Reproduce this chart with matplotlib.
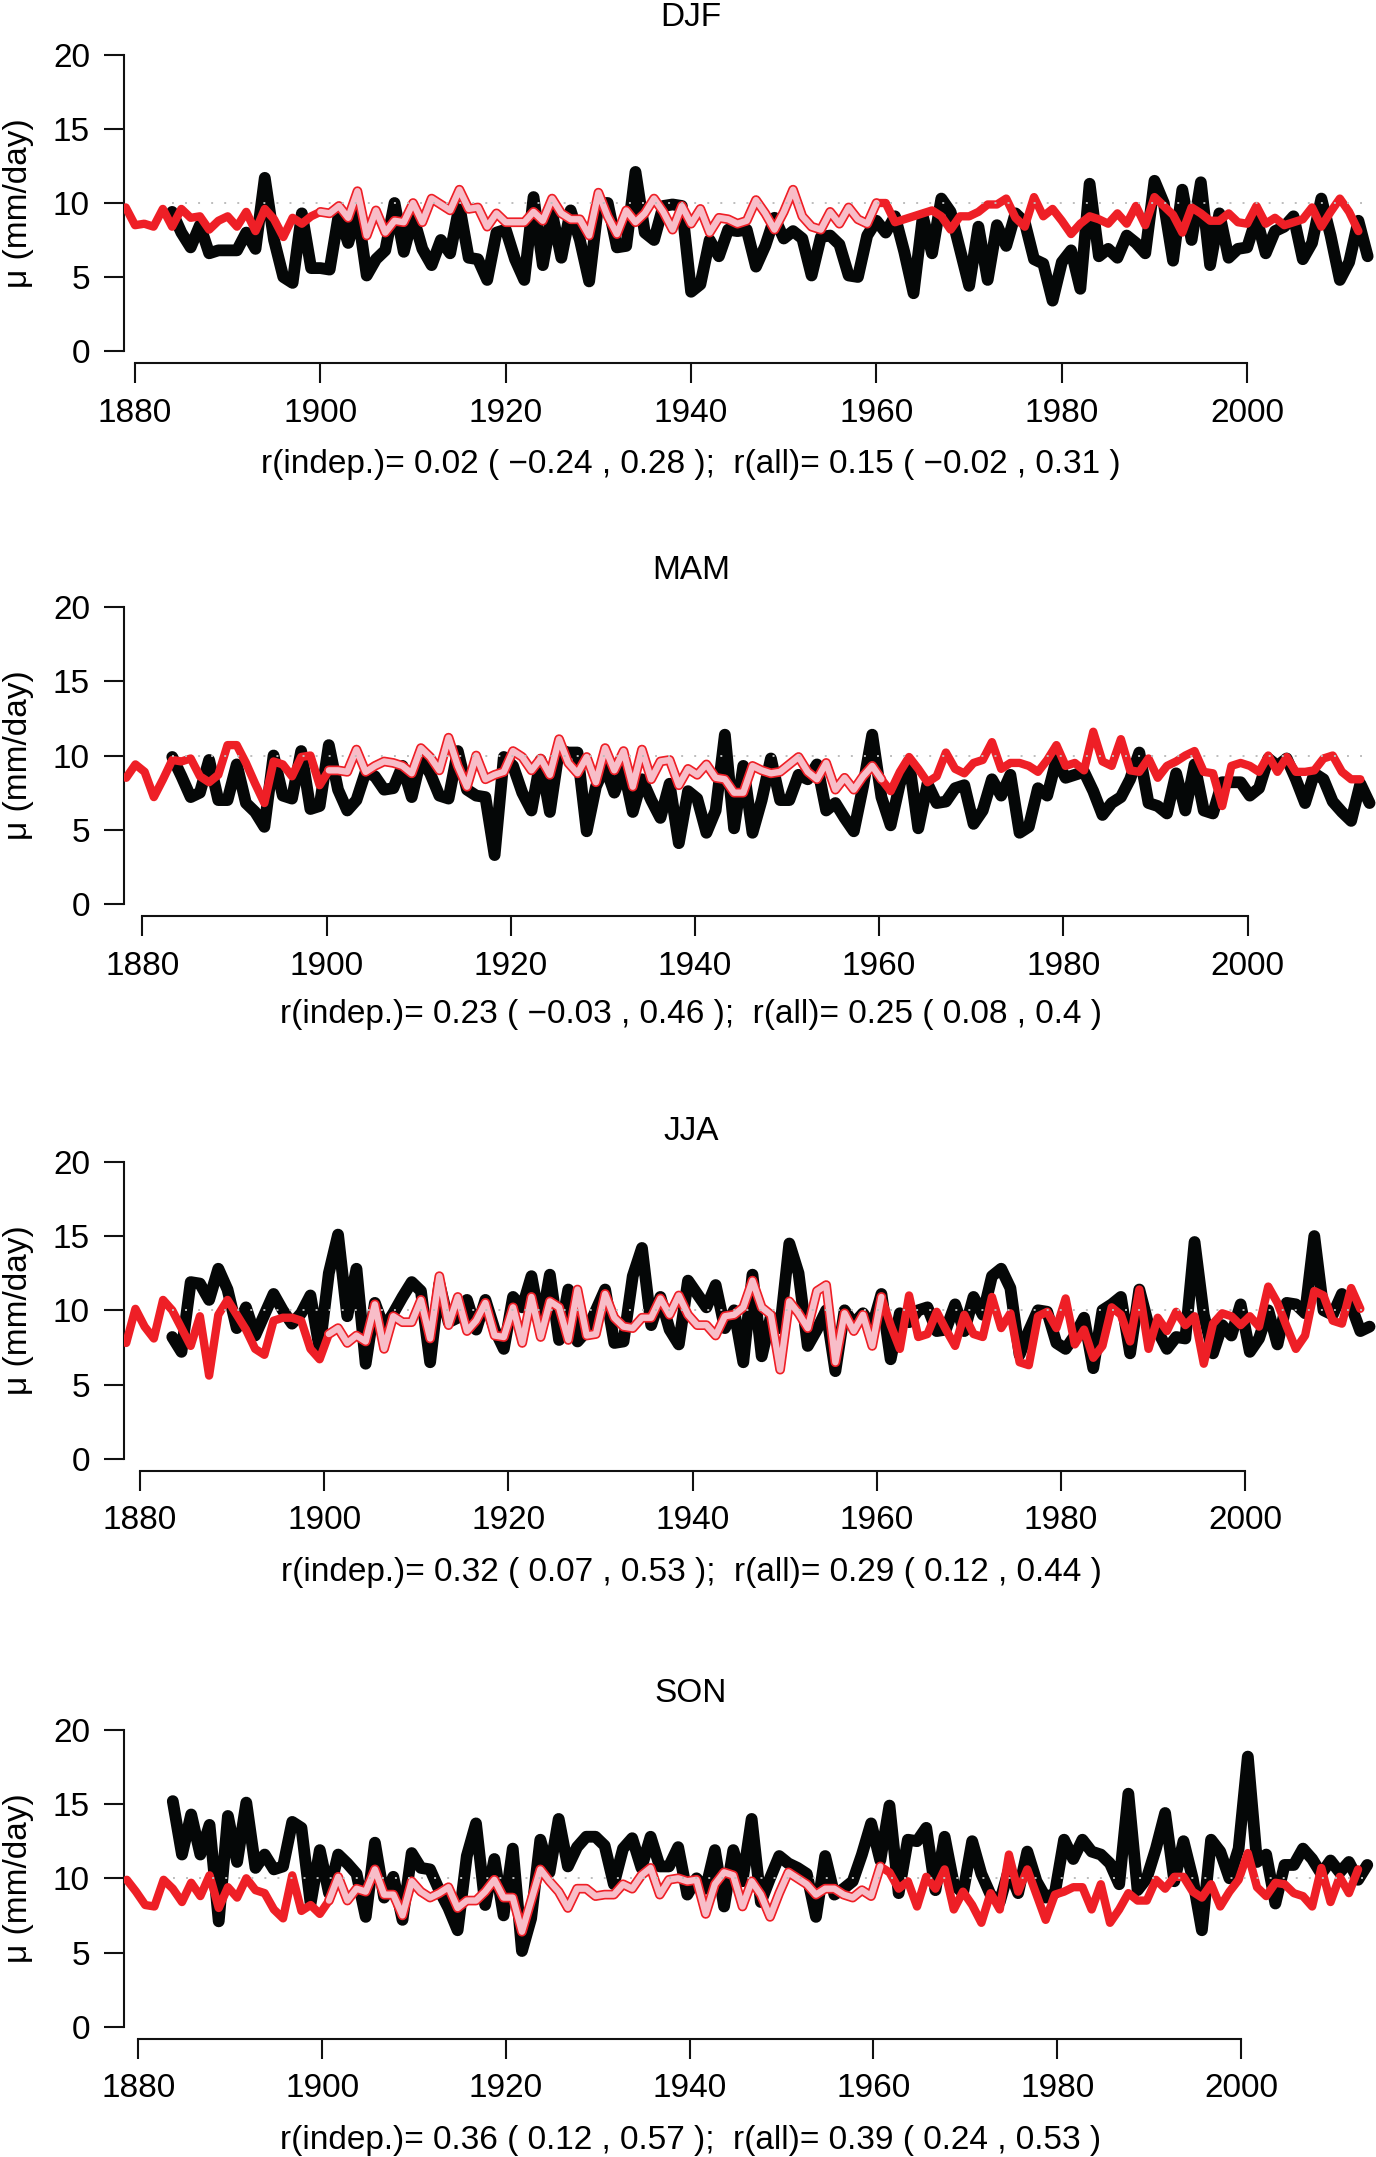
import numpy as np
import matplotlib
matplotlib.use("Agg")
import matplotlib.pyplot as plt

plt.rcParams['font.family'] = ['Liberation Sans', 'DejaVu Sans']
plt.rcParams['lines.scale_dashes'] = False

# ---------------- data ----------------
seasons = ["DJF", "MAM", "JJA", "SON"]
r_texts = [
    "r(indep.)= 0.02 ( \u22120.24 , 0.28 );  r(all)= 0.15 ( \u22120.02 , 0.31 )",
    "r(indep.)= 0.23 ( \u22120.03 , 0.46 );  r(all)= 0.25 ( 0.08 , 0.4 )",
    "r(indep.)= 0.32 ( 0.07 , 0.53 );  r(all)= 0.29 ( 0.12 , 0.44 )",
    "r(indep.)= 0.36 ( 0.12 , 0.57 );  r(all)= 0.39 ( 0.24 , 0.53 )",
]
indep_period = (1900, 1960)
x_ticks = [1880, 1900, 1920, 1940, 1960, 1980, 2000]
y_ticks = [0, 5, 10, 15, 20]
ref_level = 10

djf_obs_start = 1884
djf_obs = [9.4, 8.0, 7.0, 8.5, 6.6, 6.8, 6.8, 6.8, 8.0, 6.9,
           11.7, 7.5, 5.0, 4.6, 9.3, 5.6, 5.6, 5.5, 9.3, 7.3,
           9.5, 5.1, 6.2, 6.8, 10.0, 6.7, 9.1, 6.9, 5.8, 7.5,
           6.6, 9.8, 6.3, 6.2, 4.8, 8.0, 8.2, 6.2, 4.8, 10.4,
           5.8, 9.3, 6.3, 9.5, 7.5, 4.7, 10.0, 10.0, 7.0, 7.1,
           12.1, 8.0, 7.5, 9.8, 9.9, 9.8, 4.0, 4.5, 7.5, 6.4,
           8.2, 8.1, 8.2, 5.7, 7.1, 9.0, 7.6, 8.1, 7.6, 5.1,
           7.7, 7.8, 7.2, 5.1, 5.0, 7.8, 8.8, 8.0, 9.1, 6.7,
           3.9, 9.1, 6.6, 10.3, 9.4, 6.9, 4.4, 8.4, 4.8, 8.5,
           7.1, 9.3, 8.7, 6.2, 5.9, 3.4, 6.0, 6.8, 4.2, 11.3,
           6.4, 6.9, 6.3, 7.8, 7.3, 6.6, 11.5, 10.0, 6.1, 10.9,
           7.5, 11.4, 5.8, 9.3, 6.3, 6.9, 7.0, 9.0, 6.6, 8.1,
           8.4, 9.1, 6.2, 7.3, 10.3, 7.8, 4.8, 6.0, 8.8, 6.4]
djf_mod_start = 1879
djf_mod = [9.7, 8.5, 8.6, 8.4, 9.6, 8.4, 9.6, 9.0, 9.1, 8.2,
           8.8, 9.1, 8.4, 9.4, 8.1, 9.6, 8.9, 7.7, 9.0, 8.6,
           9.1, 9.4, 9.3, 9.8, 9.0, 10.8, 7.8, 9.5, 8.0, 8.8,
           8.7, 10.0, 8.7, 10.3, 9.9, 9.5, 10.9, 9.6, 9.7, 8.4,
           9.3, 8.7, 8.7, 8.7, 9.4, 8.8, 10.3, 9.3, 8.9, 8.9,
           7.8, 10.7, 9.1, 7.9, 9.5, 8.7, 9.3, 10.3, 9.4, 8.2,
           9.8, 8.6, 9.6, 8.0, 9.0, 8.9, 8.6, 8.8, 10.2, 9.3,
           8.2, 9.4, 10.9, 9.1, 8.4, 8.2, 9.4, 8.6, 9.7, 8.9,
           8.6, 10.0, 10.0, 8.7, 8.9, 9.1, 9.3, 9.5, 9.1, 8.2,
           9.1, 9.1, 9.4, 9.9, 9.9, 10.3, 9.0, 8.4, 10.4, 9.1,
           9.6, 8.8, 7.9, 8.6, 9.1, 8.9, 8.6, 9.3, 8.6, 9.8,
           8.5, 10.4, 9.8, 9.2, 8.0, 9.7, 9.3, 8.8, 8.8, 9.3,
           8.7, 8.6, 9.8, 8.6, 9.0, 8.5, 8.7, 8.9, 9.7, 8.4,
           9.4, 10.3, 9.4, 8.1]

mam_obs_start = 1883
mam_obs = [9.9, 8.6, 7.2, 7.5, 9.7, 7.0, 7.0, 9.4, 6.8, 6.2,
           5.2, 10.0, 7.3, 7.1, 10.3, 6.4, 6.6, 10.7, 7.7, 6.3,
           7.0, 8.9, 8.6, 7.7, 7.8, 9.3, 7.2, 9.8, 8.8, 7.3,
           7.1, 10.3, 7.7, 7.3, 7.2, 3.3, 9.9, 9.3, 7.5, 6.3,
           9.7, 6.2, 10.4, 10.2, 10.2, 4.9, 7.9, 9.3, 7.5, 9.1,
           6.2, 8.4, 7.0, 5.8, 8.1, 4.1, 7.6, 7.1, 4.8, 6.3,
           11.4, 5.1, 9.3, 4.8, 7.0, 9.8, 7.0, 7.0, 8.7, 8.4,
           9.4, 6.3, 6.8, 5.8, 4.9, 7.9, 11.4, 7.2, 5.3, 8.1,
           9.6, 5.1, 8.1, 6.8, 6.9, 7.8, 8.0, 5.4, 6.3, 8.4,
           7.3, 8.7, 4.8, 5.2, 7.8, 7.3, 9.7, 8.5, 8.7, 8.9,
           7.6, 6.0, 6.8, 7.2, 8.4, 10.2, 6.8, 6.6, 6.1, 8.8,
           6.3, 9.4, 6.3, 6.1, 8.2, 8.2, 8.2, 7.3, 7.8, 9.8,
           9.3, 9.8, 8.4, 6.8, 8.8, 8.4, 6.9, 6.2, 5.6, 8.1, 6.8]
mam_mod_start = 1878
mam_mod = [8.5, 9.4, 8.9, 7.2, 8.4, 9.7, 9.6, 9.8, 8.6, 8.2,
           8.7, 10.7, 10.7, 9.5, 8.1, 6.8, 9.6, 9.4, 8.6, 9.9,
           10.0, 8.0, 9.0, 9.0, 8.9, 10.4, 8.9, 9.3, 9.6, 9.5,
           9.3, 8.8, 10.5, 9.9, 9.0, 11.2, 9.3, 7.9, 10.0, 8.4,
           8.7, 8.9, 10.3, 9.9, 9.0, 9.8, 8.7, 11.1, 9.5, 8.8,
           9.9, 8.2, 10.5, 9.0, 10.3, 7.9, 10.4, 8.4, 9.6, 9.7,
           8.0, 9.1, 8.7, 9.4, 8.5, 8.4, 7.5, 7.5, 9.3, 9.0,
           8.8, 8.9, 9.4, 9.9, 8.9, 8.4, 9.5, 7.7, 8.5, 7.7,
           8.6, 9.3, 8.4, 7.6, 8.9, 9.9, 9.1, 8.2, 8.6, 10.2,
           9.1, 8.8, 9.5, 9.7, 10.9, 9.1, 9.5, 9.5, 9.3, 8.9,
           9.7, 10.7, 9.3, 9.5, 9.0, 11.6, 9.6, 9.3, 11.1, 9.0,
           8.9, 9.8, 8.5, 9.3, 9.6, 10.0, 10.3, 8.9, 8.8, 6.6,
           9.3, 9.5, 9.3, 8.9, 10.0, 8.9, 9.9, 8.9, 8.9, 9.0,
           9.8, 10.0, 8.9, 8.4, 8.4]

jja_obs_start = 1883
jja_obs = [8.2, 7.2, 11.9, 11.8, 10.7, 12.8, 11.4, 8.8, 10.2, 8.3,
           9.7, 11.1, 10.0, 9.1, 9.8, 11.0, 7.4, 12.5, 15.1, 9.6,
           12.8, 6.4, 10.5, 8.8, 9.8, 10.9, 11.9, 11.3, 6.5, 11.8,
           9.2, 9.5, 10.7, 8.7, 10.7, 8.7, 7.4, 10.9, 10.2, 12.3,
           8.9, 12.4, 8.0, 11.4, 7.9, 8.6, 10.0, 11.4, 7.8, 7.9,
           12.3, 14.2, 9.0, 10.9, 8.7, 7.7, 12.0, 11.1, 10.2, 11.7,
           8.8, 10.0, 6.5, 12.4, 6.9, 9.6, 8.8, 14.5, 12.5, 7.6,
           8.7, 10.0, 5.9, 10.0, 9.1, 9.8, 8.9, 11.1, 6.7, 9.8,
           9.2, 10.0, 10.2, 8.6, 8.7, 10.4, 8.6, 10.9, 9.7, 12.3,
           12.8, 11.5, 7.0, 8.6, 10.0, 9.9, 7.8, 7.4, 8.3, 9.5,
           6.1, 10.0, 10.4, 10.9, 7.1, 11.4, 9.0, 8.6, 7.4, 8.2,
           8.1, 14.6, 9.7, 7.1, 9.0, 8.3, 10.4, 7.2, 8.1, 10.0,
           7.7, 10.5, 10.4, 9.8, 15.0, 10.0, 9.7, 11.1, 10.3, 8.6, 8.9]
jja_mod_start = 1878
jja_mod = [7.8, 10.1, 8.9, 8.1, 10.7, 10.0, 8.8, 7.6, 9.6, 5.6,
           9.7, 10.7, 9.7, 8.7, 7.4, 7.0, 9.3, 9.5, 9.5, 9.3,
           7.4, 6.7, 8.4, 8.8, 7.8, 8.3, 7.9, 10.4, 7.4, 9.6,
           9.2, 9.2, 10.7, 8.1, 12.3, 9.0, 10.9, 8.6, 9.3, 10.5,
           8.3, 8.2, 10.2, 7.8, 10.9, 8.2, 10.6, 10.2, 8.0, 11.4,
           8.3, 8.4, 11.1, 9.5, 8.9, 8.8, 9.5, 9.5, 10.8, 9.7,
           11.0, 9.7, 9.0, 9.0, 8.3, 9.6, 9.7, 10.2, 12.0, 10.2,
           9.7, 6.0, 10.6, 9.8, 8.8, 11.3, 11.7, 6.5, 9.8, 8.6,
           9.7, 7.6, 10.9, 9.0, 7.4, 11.0, 8.2, 8.4, 9.9, 8.7,
           7.6, 9.7, 8.4, 8.2, 10.9, 8.8, 9.8, 6.5, 6.3, 9.6,
           9.9, 8.8, 10.8, 7.7, 8.7, 6.8, 7.6, 10.2, 9.7, 7.9,
           11.4, 7.4, 9.5, 8.6, 9.9, 9.0, 9.6, 6.4, 9.1, 9.8,
           9.6, 9.0, 9.6, 8.9, 11.6, 10.5, 8.9, 7.4, 8.3, 11.3,
           11.0, 9.3, 9.1, 11.5, 10.1]

son_obs_start = 1883
son_obs = [15.2, 11.6, 14.3, 11.6, 13.6, 7.1, 14.2, 11.1, 15.1, 10.7,
           11.6, 10.6, 10.8, 13.8, 13.4, 8.3, 11.9, 9.0, 11.6, 11.0,
           10.3, 7.4, 12.4, 8.7, 10.1, 7.2, 11.7, 10.7, 10.6, 9.2,
           8.0, 6.5, 11.5, 13.7, 8.2, 11.3, 7.5, 12.0, 5.1, 7.3,
           12.6, 10.4, 14.0, 10.8, 12.1, 12.8, 12.8, 12.2, 9.6, 12.0,
           12.7, 10.7, 12.8, 10.8, 10.8, 12.1, 8.9, 10.0, 9.3, 11.9,
           8.1, 11.9, 9.8, 14.0, 8.4, 10.0, 11.5, 11.0, 10.7, 10.3,
           7.4, 11.5, 8.9, 9.3, 9.8, 11.6, 13.7, 11.2, 14.9, 9.0,
           12.6, 12.5, 13.4, 9.2, 12.8, 9.6, 9.0, 12.5, 10.3, 8.9,
           8.4, 10.6, 9.0, 11.8, 9.8, 8.7, 9.0, 12.6, 11.3, 12.6,
           11.8, 11.6, 11.0, 9.6, 15.7, 9.2, 10.0, 12.0, 14.4, 9.8,
           12.5, 10.0, 6.5, 12.6, 11.8, 10.0, 12.0, 18.2, 11.1, 11.6,
           8.3, 10.9, 10.9, 12.0, 11.3, 10.3, 11.2, 10.4, 11.1, 9.9, 10.9]
son_mod_start = 1878
son_mod = [9.9, 9.1, 8.2, 8.1, 9.9, 9.3, 8.4, 9.7, 8.8, 10.2,
           8.0, 9.4, 8.7, 10.0, 9.2, 9.0, 7.9, 7.3, 10.2, 7.8,
           8.2, 7.6, 8.5, 10.1, 8.5, 9.3, 9.1, 10.6, 8.9, 8.9,
           7.5, 9.8, 9.1, 8.7, 9.0, 9.4, 8.0, 8.5, 8.5, 9.1,
           9.9, 8.7, 8.7, 6.4, 8.5, 10.6, 9.8, 9.1, 8.0, 9.3,
           9.3, 8.8, 8.9, 8.9, 9.6, 9.3, 10.2, 10.7, 8.9, 9.9,
           10.0, 9.8, 9.9, 7.6, 9.6, 10.4, 10.2, 8.1, 9.8, 8.9,
           7.4, 9.0, 10.4, 10.0, 9.6, 8.9, 9.3, 9.3, 8.9, 8.7,
           9.2, 8.8, 10.8, 10.4, 9.3, 9.8, 8.1, 10.1, 9.3, 10.6,
           7.9, 9.1, 8.2, 7.0, 9.0, 7.9, 11.6, 9.1, 10.6, 8.9,
           7.2, 8.9, 9.1, 9.4, 9.4, 7.9, 9.6, 7.0, 7.9, 9.0,
           8.5, 8.5, 9.9, 9.3, 10.1, 10.1, 9.1, 8.7, 9.6, 8.1,
           9.1, 9.9, 11.7, 9.4, 8.8, 9.7, 9.6, 9.0, 8.8, 8.1,
           10.7, 8.4, 10.1, 9.0, 10.6]

panels_obs = [(djf_obs_start, djf_obs), (mam_obs_start, mam_obs),
              (jja_obs_start, jja_obs), (son_obs_start, son_obs)]
panels_mod = [(djf_mod_start, djf_mod), (mam_mod_start, mam_mod),
              (jja_mod_start, jja_mod), (son_mod_start, son_mod)]

# ---------------- layout (pixels of the 1376x2157 canvas) ----------------
W, H, DPI = 1376, 2157, 100
season_shift = [0.0, 0.25, 0.5, 0.75]          # seasonal position within year
region_tb = [(43.2, 362.8), (595.0, 916.0), (1150.0, 1470.6), (1718.0, 2038.6)]
xlims = [(1878.81, 2013.9), (1878.01, 2013.95), (1878.26, 2014.2), (1878.44, 2014.7)]
title_y = [17, 570, 1131, 1693]
rtext_y = [465, 1014, 1572, 2141]
left_px = 124
FS = 24

BLACK = '#050707'
RED = '#EE1F26'
PINK = '#F8BDC8'
GREY = '#BDBDBD'

fig = plt.figure(figsize=(W / DPI, H / DPI), dpi=DPI)

for i in range(4):
    top, bot = region_tb[i]
    ax = fig.add_axes([left_px / W, 1 - bot / H, (W - left_px) / W, (bot - top) / H])
    ax.set_xlim(*xlims[i])
    ax.set_ylim(-0.8, 20.8)

    o_start, obs = panels_obs[i]
    m_start, mod = panels_mod[i]
    obs = np.asarray(obs, float)
    mod = np.asarray(mod, float)
    yo = np.arange(len(obs)) + o_start
    ym = np.arange(len(mod)) + m_start
    sh = season_shift[i]

    ax.plot(yo + sh, obs, color=BLACK, lw=8.5, solid_joinstyle='round',
            solid_capstyle='round', zorder=2)
    ax.plot(ym + sh, mod, color=RED, lw=6.0, solid_joinstyle='round',
            solid_capstyle='round', zorder=3)
    m = (ym >= indep_period[0]) & (ym <= indep_period[1])
    ax.plot(ym[m] + sh, mod[m], color=RED, lw=7.0, solid_joinstyle='round',
            solid_capstyle='round', zorder=4)
    ax.plot(ym[m] + sh, mod[m], color=PINK, lw=4.6, solid_joinstyle='round',
            solid_capstyle='round', zorder=5)
    ax.plot([yo[0] + sh, yo[-1] + sh], [ref_level, ref_level], color=GREY,
            lw=1.4, linestyle=(0, (1.4, 8.0)), zorder=6)

    for s in ['top', 'right']:
        ax.spines[s].set_visible(False)
    ax.spines['left'].set_bounds(0, 20)
    ax.spines['bottom'].set_bounds(1880, 2000)
    for s in ['left', 'bottom']:
        ax.spines[s].set_linewidth(1.5)
        ax.spines[s].set_color('#111111')
    ax.set_xticks(x_ticks)
    ax.set_yticks(y_ticks)
    ax.set_xticklabels([str(t) for t in x_ticks])
    ax.set_yticklabels([str(t) for t in y_ticks])
    ax.tick_params(axis='both', length=14.5, width=1.5, color='#111111',
                   labelsize=FS)
    ax.tick_params(axis='x', pad=10.5)
    ax.tick_params(axis='y', pad=10)
    ax.patch.set_alpha(0)

    fig.text(691 / W, 1 - title_y[i] / H, seasons[i], ha='center', va='center',
             fontsize=FS)
    fig.text(691 / W, 1 - rtext_y[i] / H, r_texts[i], ha='center', va='center',
             fontsize=FS)
    ycen = (top + bot) / 2
    fig.text(19 / W, 1 - ycen / H, "\u03bc (mm/day)", ha='center', va='center',
             rotation=90, fontsize=FS)

fig.savefig("out.png", dpi=DPI)
